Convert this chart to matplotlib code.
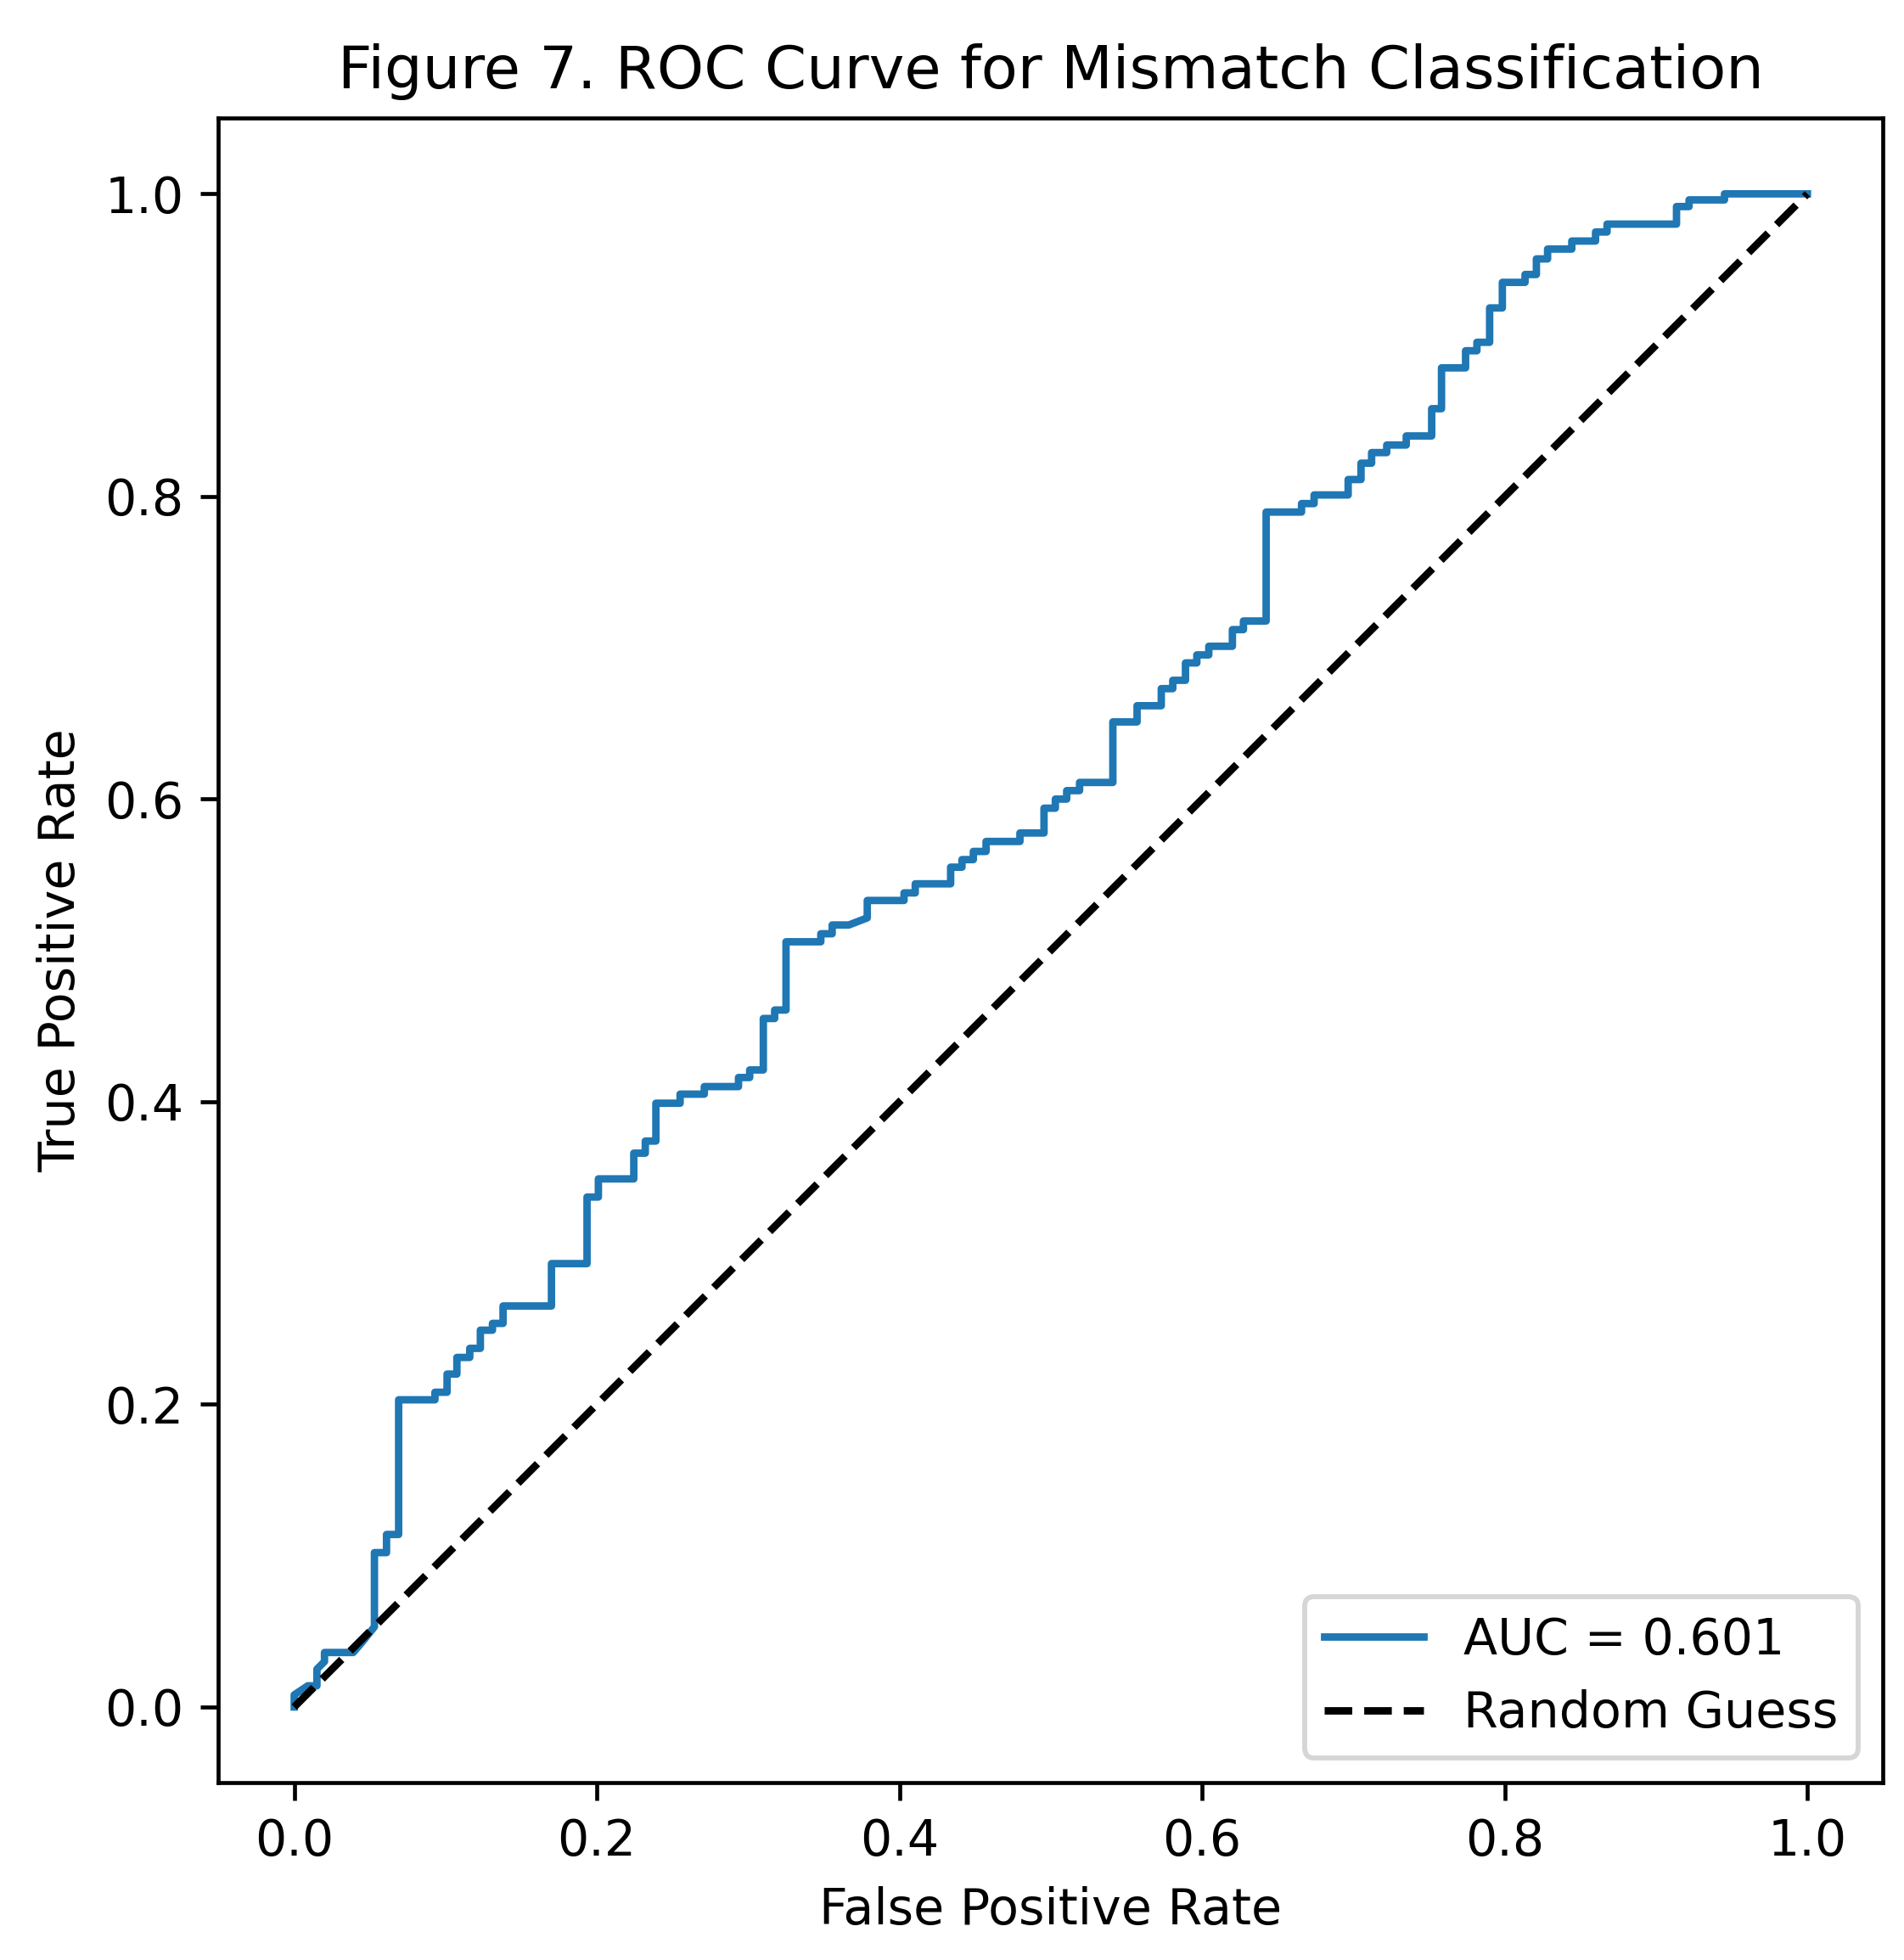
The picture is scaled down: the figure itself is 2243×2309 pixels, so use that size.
import matplotlib
matplotlib.use('Agg')
from matplotlib import pyplot as plt

# ROC curve vertices
fpr = [0.0, 0.0, 0.009, 0.015, 0.015, 0.020, 0.020, 0.039, 0.045, 0.049, 0.053,
       0.053, 0.061, 0.061, 0.069, 0.069, 0.093, 0.093, 0.101, 0.101, 0.1075,
       0.1075, 0.116, 0.116, 0.123, 0.123, 0.131, 0.131, 0.138, 0.138, 0.170,
       0.170, 0.1935, 0.1935, 0.201, 0.201, 0.2244, 0.2244, 0.232, 0.232, 0.239,
       0.239, 0.255, 0.255, 0.271, 0.271, 0.2936, 0.2936, 0.301, 0.301, 0.310,
       0.310, 0.3175, 0.3175, 0.325, 0.325, 0.348, 0.348, 0.3555, 0.3555, 0.3665,
       0.3787, 0.3787, 0.403, 0.403, 0.4104, 0.4104, 0.4338, 0.4338, 0.4413,
       0.4413, 0.4488, 0.4488, 0.4572, 0.4572, 0.4796, 0.4796, 0.4955, 0.4955,
       0.503, 0.503, 0.5105, 0.5105, 0.519, 0.519, 0.541, 0.541, 0.557, 0.557,
       0.573, 0.573, 0.5806, 0.5806, 0.589, 0.589, 0.5965, 0.5965, 0.6044,
       0.6044, 0.620, 0.620, 0.6273, 0.6273, 0.6423, 0.6423, 0.6657, 0.6657,
       0.674, 0.674, 0.6965, 0.6965, 0.705, 0.705, 0.712, 0.712, 0.722, 0.722,
       0.7349, 0.7349, 0.7517, 0.7517, 0.7582, 0.7582, 0.7741, 0.7741, 0.7816,
       0.7816, 0.790, 0.790, 0.7984, 0.7984, 0.8134, 0.8134, 0.8209, 0.8209,
       0.8283, 0.8283, 0.8443, 0.8443, 0.860, 0.860, 0.8676, 0.8676, 0.9135,
       0.9135, 0.9218, 0.9218, 0.9452, 0.9452, 1.0]
tpr = [0.0, 0.008, 0.014, 0.014, 0.025, 0.030, 0.036, 0.036, 0.043, 0.048, 0.053,
       0.102, 0.102, 0.114, 0.114, 0.203, 0.203, 0.208, 0.208, 0.220, 0.220,
       0.231, 0.231, 0.237, 0.237, 0.249, 0.249, 0.2535, 0.2535, 0.265, 0.265,
       0.293, 0.293, 0.337, 0.337, 0.349, 0.349, 0.366, 0.366, 0.374, 0.374,
       0.399, 0.399, 0.405, 0.405, 0.410, 0.410, 0.416, 0.416, 0.421, 0.421,
       0.455, 0.455, 0.4606, 0.4606, 0.5057, 0.5057, 0.511, 0.511, 0.5168, 0.5168,
       0.5215, 0.533, 0.533, 0.538, 0.538, 0.544, 0.544, 0.555, 0.555,
       0.560, 0.560, 0.5654, 0.5654, 0.572, 0.572, 0.5776, 0.5776, 0.594,
       0.594, 0.600, 0.600, 0.6056, 0.6056, 0.611, 0.611, 0.651, 0.651, 0.6617,
       0.6617, 0.673, 0.673, 0.6785, 0.6785, 0.690, 0.690, 0.6953, 0.6953,
       0.701, 0.701, 0.712, 0.712, 0.7177, 0.7177, 0.7897, 0.7897, 0.7953,
       0.7953, 0.801, 0.801, 0.8112, 0.8112, 0.822, 0.822, 0.829, 0.829, 0.834,
       0.834, 0.840, 0.840, 0.858, 0.858, 0.885, 0.885, 0.8963, 0.8963,
       0.9019, 0.9019, 0.9246, 0.9246, 0.9415, 0.9415, 0.9467, 0.9467, 0.957,
       0.957, 0.9635, 0.9635, 0.9688, 0.9688, 0.9748, 0.9748, 0.980, 0.980,
       0.9916, 0.9916, 0.996, 0.996, 1.0, 1.0]
auc_value = 0.601

DPI = 422
fig = plt.figure(figsize=(2243 / DPI, 2309 / DPI), dpi=DPI)
ax = fig.add_axes([0.1148, 0.0905, 0.9890 - 0.1148, 0.9397 - 0.0905])
ax.plot(fpr, tpr, label=f'AUC = {auc_value:.3f}')
ax.plot([0, 1], [0, 1], 'k--', label='Random Guess')
ax.set_xlabel('False Positive Rate')
ax.set_ylabel('True Positive Rate')
ax.set_title('Figure 7. ROC Curve for Mismatch Classification')
ax.legend(loc='lower right')
fig.savefig('out.png', dpi=DPI)
